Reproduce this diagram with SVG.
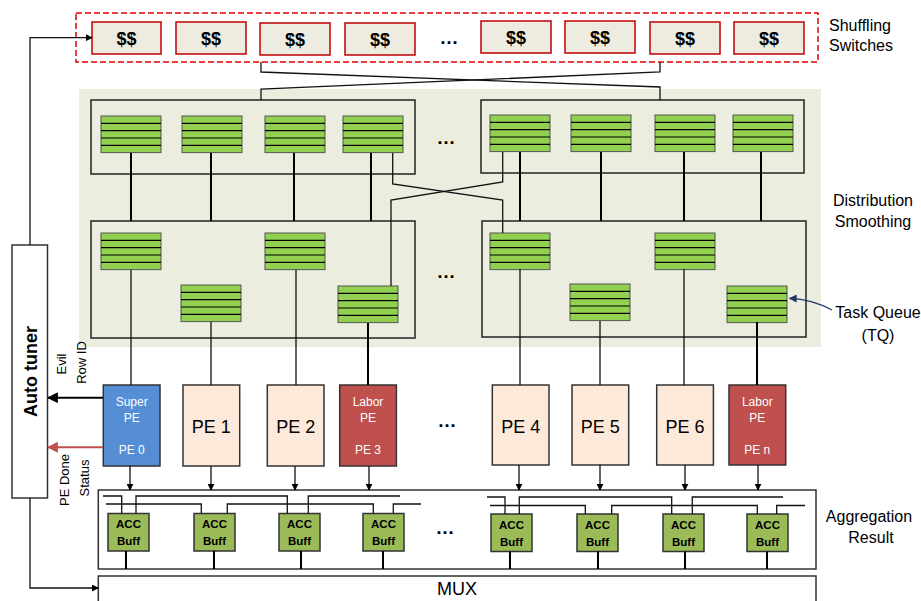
<svg xmlns="http://www.w3.org/2000/svg" xmlns:xlink="http://www.w3.org/1999/xlink" width="921" height="601" viewBox="0 0 921 601">
  <style>
    text { font-family: "Liberation Sans", Arial, sans-serif; fill: #000; }
    .lbl { font-size: 16px; text-anchor: middle; }
    .sw { fill: #eeece1; stroke: #c00000; stroke-width: 1.5; }
    .swt { font-size: 18px; font-weight: bold; text-anchor: middle; }
    .blk { fill: none; stroke: #222; stroke-width: 1.5; }
    .pe { fill: #fde9d9; stroke: #333; stroke-width: 1.5; }
    .pet { font-size: 18px; text-anchor: middle; }
    .sup { fill: #558ed5; stroke: #333; stroke-width: 1.5; }
    .lab { fill: #c0504d; stroke: #333; stroke-width: 1.5; }
    .wt { font-size: 12px; fill: #fff; text-anchor: middle; }
    .acc { fill: #9bbb59; stroke: #333; stroke-width: 1.5; }
    .acct { font-size: 11.5px; font-weight: bold; text-anchor: middle; }
    .w2 { fill: none; stroke: #000; stroke-width: 2; }
    .w1 { fill: none; stroke: #111; stroke-width: 1.3; }
    .dots { font-size: 19px; font-weight: bold; text-anchor: middle; }
  </style>
  <defs>
    <marker id="ah" viewBox="0 0 10 10" refX="9" refY="5" markerWidth="7" markerHeight="7" markerUnits="userSpaceOnUse" orient="auto">
      <path d="M0,0 L10,5 L0,10 z" fill="#000"/>
    </marker>
    <marker id="ahBig" viewBox="0 0 10 10" refX="9" refY="5" markerWidth="11" markerHeight="11" markerUnits="userSpaceOnUse" orient="auto">
      <path d="M0,0 L10,5 L0,10 z" fill="#000"/>
    </marker>
    <marker id="ahRed" viewBox="0 0 10 10" refX="9" refY="5" markerWidth="11" markerHeight="11" markerUnits="userSpaceOnUse" orient="auto">
      <path d="M0,0 L10,5 L0,10 z" fill="#c0504d"/>
    </marker>
    <marker id="ahNavy" viewBox="0 0 10 10" refX="9" refY="5" markerWidth="8" markerHeight="8" markerUnits="userSpaceOnUse" orient="auto">
      <path d="M0,0 L10,5 L0,10 z" fill="#1f3864"/>
    </marker>
    <!-- striped task queue -->
    <g id="tq">
      <rect x="0" y="0" width="60" height="36.6" fill="#92d050" stroke="#555" stroke-width="1"/>
      <path d="M0,7.3 H60 M0,14.6 H60 M0,22 H60 M0,29.3 H60" stroke="#000" stroke-width="1.2"/>
    </g>
  </defs>

  <!-- distribution smoothing background -->
  <rect x="79" y="89" width="742" height="258" fill="#ebeedf"/>

  <!-- shuffling switches -->
  <g id="switches">
    <rect x="76" y="13" width="742" height="49" fill="none" stroke="#e00000" stroke-width="1.5" stroke-dasharray="6,3"/>
    <rect class="sw" x="92" y="22" width="69" height="32"/>
    <text class="swt" x="126.5" y="44.5">$$</text>
    <rect class="sw" x="176" y="22" width="70" height="32"/>
    <text class="swt" x="211" y="44.5">$$</text>
    <rect class="sw" x="260" y="23" width="70" height="32"/>
    <text class="swt" x="295" y="45.5">$$</text>
    <rect class="sw" x="345" y="23" width="70" height="32"/>
    <text class="swt" x="380" y="45.5">$$</text>
    <text class="dots" x="449" y="44">…</text>
    <rect class="sw" x="481" y="21" width="70" height="32"/>
    <text class="swt" x="516" y="43.5">$$</text>
    <rect class="sw" x="565" y="21" width="70" height="32"/>
    <text class="swt" x="600" y="43.5">$$</text>
    <rect class="sw" x="650" y="22" width="70" height="32"/>
    <text class="swt" x="685" y="44.5">$$</text>
    <rect class="sw" x="734" y="22" width="70" height="32"/>
    <text class="swt" x="769" y="44.5">$$</text>
  </g>
  <text class="lbl" x="860" y="31">Shuffling</text>
  <text class="lbl" x="861" y="51">Switches</text>

  <!-- queue blocks -->
  <g id="dist-top-left">
    <rect class="blk" x="91" y="100" width="324" height="74"/>
    <use xlink:href="#tq" x="101" y="116"/>
    <use xlink:href="#tq" x="182" y="116"/>
    <use xlink:href="#tq" x="265" y="116"/>
    <use xlink:href="#tq" x="343" y="116"/>
  </g>
  <g id="dist-top-right">
    <rect class="blk" x="481" y="100" width="323" height="73"/>
    <use xlink:href="#tq" x="490" y="115"/>
    <use xlink:href="#tq" x="571" y="115"/>
    <use xlink:href="#tq" x="655" y="115"/>
    <use xlink:href="#tq" x="733" y="115"/>
  </g>
  <text class="dots" x="446" y="144">…</text>
  <g id="dist-bottom-left">
    <rect class="blk" x="91" y="221" width="324" height="117"/>
    <use xlink:href="#tq" x="101" y="233"/>
    <use xlink:href="#tq" x="181" y="285"/>
    <use xlink:href="#tq" x="265" y="233"/>
    <use xlink:href="#tq" x="338" y="286"/>
  </g>
  <g id="dist-bottom-right">
    <rect class="blk" x="482" y="221" width="324" height="116"/>
    <use xlink:href="#tq" x="490" y="233"/>
    <use xlink:href="#tq" x="570" y="284"/>
    <use xlink:href="#tq" x="655" y="233"/>
    <use xlink:href="#tq" x="727" y="286"/>
  </g>
  <text class="dots" x="446" y="278">…</text>
  <text class="lbl" x="873" y="206">Distribution</text>
  <text class="lbl" x="873" y="227">Smoothing</text>
  <text class="lbl" x="878" y="318">Task Queue</text>
  <text class="lbl" x="878" y="341">(TQ)</text>

  <!-- auto tuner -->
  <g id="auto-tuner">
    <rect x="12" y="245" width="35.5" height="253" fill="#fff" stroke="#333" stroke-width="1.5"/>
    <text transform="translate(36.5,371.5) rotate(-90)" font-size="18" font-weight="bold" text-anchor="middle">Auto tuner</text>
  </g>
  <text transform="translate(66,364) rotate(-90)" font-size="13" text-anchor="middle">Evil</text>
  <text transform="translate(85.5,362.5) rotate(-90)" font-size="13" text-anchor="middle">Row ID</text>
  <text transform="translate(68.5,480) rotate(-90)" font-size="13" text-anchor="middle">PE Done</text>
  <text transform="translate(88.5,478) rotate(-90)" font-size="13" text-anchor="middle">Status</text>

  <!-- processing elements -->
  <g id="pe0">
    <rect class="sup" x="103.3" y="385" width="56.7" height="81"/>
    <text class="wt" x="131.7" y="406">Super</text>
    <text class="wt" x="131.7" y="422">PE</text>
    <text class="wt" x="131.7" y="454">PE 0</text>
  </g>
  <g id="pe1">
    <rect class="pe" x="183" y="385" width="56.7" height="81"/>
    <text class="pet" x="211.3" y="433">PE 1</text>
  </g>
  <g id="pe2">
    <rect class="pe" x="267.3" y="385" width="56.7" height="81"/>
    <text class="pet" x="295.7" y="433">PE 2</text>
  </g>
  <g id="pe3">
    <rect class="lab" x="339.7" y="385" width="56.7" height="81"/>
    <text class="wt" x="368" y="406">Labor</text>
    <text class="wt" x="368" y="422">PE</text>
    <text class="wt" x="368" y="454">PE 3</text>
  </g>
  <text class="dots" x="447" y="427">…</text>
  <g id="pe4">
    <rect class="pe" x="492.3" y="385" width="56.7" height="80"/>
    <text class="pet" x="520.7" y="432.5">PE 4</text>
  </g>
  <g id="pe5">
    <rect class="pe" x="572" y="385" width="56.7" height="80"/>
    <text class="pet" x="600.3" y="432.5">PE 5</text>
  </g>
  <g id="pe6">
    <rect class="pe" x="656.7" y="385" width="56.7" height="80"/>
    <text class="pet" x="685" y="432.5">PE 6</text>
  </g>
  <g id="pen">
    <rect class="lab" x="729" y="385" width="56.7" height="80"/>
    <text class="wt" x="757.3" y="406">Labor</text>
    <text class="wt" x="757.3" y="422">PE</text>
    <text class="wt" x="757.3" y="454">PE n</text>
  </g>

  <!-- aggregation buffers -->
  <g id="aggregation">
    <rect x="98.3" y="490" width="717.7" height="79" fill="#fff" stroke="#333" stroke-width="1.5"/>
  </g>
  <g id="acc-buffers">
    <g id="acc1"><rect class="acc" x="108" y="513.5" width="41" height="37.5"/><text class="acct" x="128.5" y="528">ACC</text><text class="acct" x="128.5" y="545">Buff</text></g>
    <g id="acc2"><rect class="acc" x="194" y="513.5" width="41" height="37.5"/><text class="acct" x="214.5" y="528">ACC</text><text class="acct" x="214.5" y="545">Buff</text></g>
    <g id="acc3"><rect class="acc" x="279" y="513.5" width="41" height="37.5"/><text class="acct" x="299.5" y="528">ACC</text><text class="acct" x="299.5" y="545">Buff</text></g>
    <g id="acc4"><rect class="acc" x="363" y="513.5" width="41" height="37.5"/><text class="acct" x="383.5" y="528">ACC</text><text class="acct" x="383.5" y="545">Buff</text></g>
    <g id="acc5"><rect class="acc" x="491" y="514" width="41" height="37.5"/><text class="acct" x="511.5" y="528.5">ACC</text><text class="acct" x="511.5" y="545.5">Buff</text></g>
    <g id="acc6"><rect class="acc" x="577" y="514" width="41" height="37.5"/><text class="acct" x="597.5" y="528.5">ACC</text><text class="acct" x="597.5" y="545.5">Buff</text></g>
    <g id="acc7"><rect class="acc" x="663" y="514" width="41" height="37.5"/><text class="acct" x="683.5" y="528.5">ACC</text><text class="acct" x="683.5" y="545.5">Buff</text></g>
    <g id="acc8"><rect class="acc" x="747" y="514" width="41" height="37.5"/><text class="acct" x="767.5" y="528.5">ACC</text><text class="acct" x="767.5" y="545.5">Buff</text></g>
  </g>
  <text class="dots" x="445" y="534">…</text>
  <text class="lbl" x="869" y="522">Aggregation</text>
  <text class="lbl" x="871" y="543">Result</text>

  <!-- output multiplexer -->
  <g id="mux">
    <rect x="98.3" y="576" width="717.7" height="30" fill="#fff" stroke="#333" stroke-width="1.5"/>
    <text x="457" y="595" font-size="18" text-anchor="middle">MUX</text>
  </g>

  <!-- connectors -->
  <g id="connectors">
    <!-- switch crossbar into the queue blocks -->
    <path class="w1" stroke-width="1.6" d="M261,62 V72 L660,87 V100"/>
    <path class="w1" stroke-width="1.6" d="M660,62 V72 L261,89 V100"/>
    <!-- upper queues to lower queue blocks -->
    <path class="w2" d="M131,153 V221 M211,153 V221 M294,153 V221 M371,153 V221"/>
    <path class="w2" d="M520,152 V221 M601,152 V221 M684,152 V221 M761,152 V221"/>
    <path class="w1" d="M392.7,153 V184 L502.7,200 V233"/>
    <path class="w1" d="M502.7,152 V182 L391,200 V286"/>
    <!-- lower queues to PEs -->
    <path class="w1" d="M131,270 V385 M211,322 V385 M296,270 V385"/>
    <path class="w2" d="M368,323 V385"/>
    <path class="w1" d="M520,269 V385 M600,321 V385 M684,269 V385"/>
    <path class="w2" d="M757,322 V385"/>
    <!-- PEs to aggregation -->
    <path class="w1" marker-end="url(#ah)" d="M130,466 V490"/>
    <path class="w1" marker-end="url(#ah)" d="M211,466 V490"/>
    <path class="w1" marker-end="url(#ah)" d="M295,466 V490"/>
    <path class="w1" marker-end="url(#ah)" d="M369,466 V490"/>
    <path class="w1" marker-end="url(#ah)" d="M519,465 V490"/>
    <path class="w1" marker-end="url(#ah)" d="M600,465 V490"/>
    <path class="w1" marker-end="url(#ah)" d="M685,465 V490"/>
    <path class="w1" marker-end="url(#ah)" d="M758,465 V490"/>
    <!-- accumulator buffer chains -->
    <path class="w1" d="M103,496 H121.7 V513.5 M136,513.5 V496 H287.3 V513.5 M308.3,513.5 V496 H400"/>
    <path class="w1" d="M106,504 H201.3 V513.5 M227.3,513.5 V504 H373.3 V513.5 M393.3,513.5 V504 H421"/>
    <path class="w1" d="M487,497 H505 V514 M519.3,514 V497 H671.7 V514 M692.3,514 V497 H783"/>
    <path class="w1" d="M490,505.5 H585.3 V514 M611.7,514 V505.5 H757.3 V514 M776.7,514 V505.5 H805"/>
    <!-- buffers to MUX side -->
    <path class="w2" d="M126,551 V569 M214,551 V569 M301,551 V569 M383,551 V569"/>
    <path class="w2" d="M510,551.5 V569 M598,551.5 V569 M685,551.5 V569 M767,551.5 V569"/>
    <!-- auto tuner control paths -->
    <path class="w1" marker-end="url(#ah)" d="M30,245 V37.7 H92"/>
    <path class="w1" marker-end="url(#ah)" d="M30,498 V588 H98.3"/>
    <path fill="none" stroke="#000" stroke-width="2" marker-end="url(#ahBig)" d="M103,397.7 H48"/>
    <path fill="none" stroke="#c0504d" stroke-width="2" marker-end="url(#ahRed)" d="M103,447.3 H48"/>
    <!-- task queue callout -->
    <path fill="none" stroke="#1f3864" stroke-width="1.3" marker-end="url(#ahNavy)" d="M832,310 Q812,299 789.5,298.3"/>
  </g>
</svg>
